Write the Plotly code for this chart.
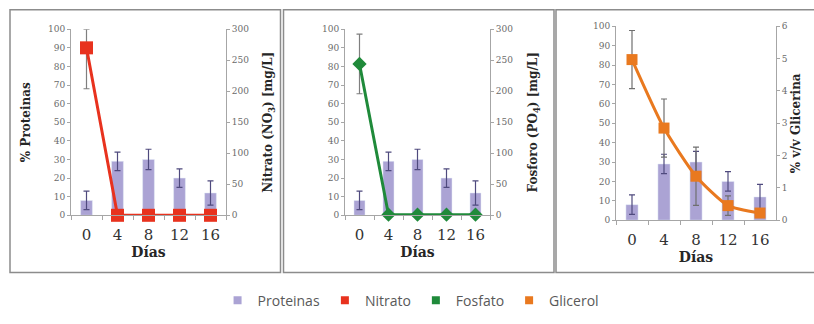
import plotly.graph_objects as go

W, H = 814, 324

dias = ["0", "4", "8", "12", "16"]
proteinas = [8, 29, 30, 20, 12]
proteinas_err = [5, 5, 5.5, 5, 6.5]

nitrato = [270, 0, 0, 0, 0]
nitrato_err_up = [30, 0, 0, 0, 0]
nitrato_err_down = [66, 0, 0, 0, 0]

fosfato = [244, 1, 1, 1, 1]
fosfato_err = [48, 0, 0, 0, 0]

glicerol = [4.97, 2.85, 1.36, 0.45, 0.22]
glicerol_err = [0.9, 0.9, 0.9, 0.3, 0.1]

C_BAR = "#ABA3D4"
C_BAR_ERR = "#4F4A7E"
C_RED = "#E8321E"
C_GREEN = "#1F8A3A"
C_ORANGE = "#E9791F"
AX = "#A6A6A6"
SERIF = "DejaVu Serif"


def px_x(x):
    return x / W


def px_y(y):
    return 1 - y / H


fig = go.Figure()

panels = [
    dict(x="x", yl="y", yr="y2"),
    dict(x="x2", yl="y3", yr="y4"),
    dict(x="x3", yl="y5", yr="y6"),
]

for i, p in enumerate(panels):
    fig.add_trace(go.Bar(
        x=dias, y=proteinas, name="Proteinas", marker_color=C_BAR,
        width=0.38, showlegend=False, xaxis=p["x"], yaxis=p["yl"],
        error_y=dict(type="data", array=proteinas_err, color=C_BAR_ERR,
                     thickness=1.2, width=3),
    ))

fig.add_trace(go.Scatter(
    x=dias, y=nitrato, name="Nitrato", mode="lines+markers",
    line=dict(color=C_RED, width=3),
    marker=dict(symbol="square", size=13, color=C_RED),
    error_y=dict(type="data", symmetric=False, array=nitrato_err_up,
                 arrayminus=nitrato_err_down, color="#7F7F7F", thickness=1.2, width=3),
    showlegend=False, xaxis="x", yaxis="y2", cliponaxis=False,
))
fig.add_trace(go.Scatter(
    x=dias, y=fosfato, name="Fosfato", mode="lines+markers",
    line=dict(color=C_GREEN, width=3),
    marker=dict(symbol="diamond", size=11, color=C_GREEN),
    error_y=dict(type="data", array=fosfato_err, color="#7F7F7F", thickness=1.2, width=3),
    showlegend=False, xaxis="x2", yaxis="y4", cliponaxis=False,
))
fig.add_trace(go.Scatter(
    x=dias, y=glicerol, name="Glicerol", mode="lines+markers",
    line=dict(color=C_ORANGE, width=3, shape="spline", smoothing=0.6),
    marker=dict(symbol="square", size=11, color=C_ORANGE),
    error_y=dict(type="data", array=glicerol_err, color="#6F6F6F", thickness=1.2, width=3),
    showlegend=False, xaxis="x3", yaxis="y6", cliponaxis=False,
))

# legend swatches
for name, col in [("Proteinas", C_BAR), ("Nitrato", C_RED), ("Fosfato", C_GREEN), ("Glicerol", C_ORANGE)]:
    fig.add_trace(go.Scatter(
        x=[None], y=[None], mode="markers", name=name,
        marker=dict(symbol="square", size=8, color=col),
        xaxis="x", yaxis="y", showlegend=True,
    ))

xdoms = [(71, 226), (345, 490), (616, 776)]
ydoms = [(25, 217), (25, 217), (22, 222)]
right_ranges = [[0, 300], [0, 300], [0, 6]]
right_dticks = [50, 50, 1]
right_titles = ["<b>Nitrato (NO<sub>3</sub>) [mg/L]</b>", "<b>Fosforo (PO<sub>4</sub>) [mg/L]</b>",
                "<b>% v/v Glicerina</b>"]
right_standoffs = [15, 16, 4]
left_titles = ["<b>% Proteinas</b>", "", ""]

tickfont_y = dict(family=SERIF, size=9, color="#6B6B6B")
layout = {}
for i in range(3):
    xa = "xaxis" if i == 0 else f"xaxis{i + 1}"
    yl = "yaxis" if i == 0 else f"yaxis{2 * i + 1}"
    yr = f"yaxis{2 * i + 2}"
    xn = "x" if i == 0 else f"x{i + 1}"
    yln = "y" if i == 0 else f"y{2 * i + 1}"
    dom_x = [px_x(xdoms[i][0]), px_x(xdoms[i][1])]
    dom_y = [px_y(ydoms[i][1]), px_y(ydoms[i][0])]
    layout[xa] = dict(
        domain=dom_x, anchor=yln, type="category", range=[-0.5, 4.5],
        showline=True, linecolor=AX, linewidth=1, ticks="outside", tickson="boundaries",
        ticklen=4, tickcolor=AX, showgrid=False, zeroline=False,
        ticklabelstandoff=6, tickangle=0,
        tickfont=dict(family=SERIF, size=15, color="#333333"),
        title=dict(text="<b>Días</b>", font=dict(family=SERIF, size=14, color="#262626"), standoff=2),
    )
    layout[yl] = dict(
        domain=dom_y, anchor=xn, range=[0, 100], dtick=10, showline=True, linecolor=AX,
        ticks="outside", ticklen=3, tickcolor=AX, showgrid=False, zeroline=False,
        tickfont=tickfont_y,
        title=dict(text=left_titles[i], font=dict(family=SERIF, size=12, color="#262626"), standoff=14),
    )
    layout[yr] = dict(
        domain=dom_y, anchor=xn, overlaying=yln, side="right",
        range=right_ranges[i], dtick=right_dticks[i], showline=True, linecolor=AX,
        ticks="outside", ticklen=3, tickcolor=AX, showgrid=False, zeroline=False,
        tickfont=tickfont_y,
        title=dict(text=right_titles[i], font=dict(family=SERIF, size=12, color="#262626"),
                   standoff=right_standoffs[i]),
    )

frames = [(10, 5, 280.5, 276), (283.5, 5, 554, 276), (556, 5, 816, 276)]
shapes = []
for x0, y0, x1, y1 in frames:
    shapes.append(dict(type="rect", xref="paper", yref="paper",
                       x0=px_x(x0), x1=px_x(x1), y0=px_y(y1), y1=px_y(y0),
                       line=dict(color="#8C8C8C", width=1.5), layer="below"))

fig.update_layout(
    width=W, height=H, margin=dict(l=0, r=0, t=0, b=0),
    paper_bgcolor="white", plot_bgcolor="rgba(0,0,0,0)",
    showlegend=True, barmode="overlay",
    legend=dict(orientation="h", x=0.505, xanchor="center", y=px_y(305), yanchor="middle",
                font=dict(family="Open Sans", size=14, color="#595959"),
                itemwidth=30, bgcolor="rgba(0,0,0,0)", traceorder="normal"),
    shapes=shapes,
    **layout,
)

post = (
    "document.documentElement.style.cssText='margin:0;padding:0;overflow:hidden;height:324px;';"
    "document.body.style.cssText='margin:0;padding:0;overflow:hidden;height:324px;';"
    "var gd=document.getElementById('{plot_id}');"
    "gd.style.position='fixed';gd.style.top='0px';gd.style.left='0px';"
)
fig.write_html("out.html", config={"displayModeBar": False}, post_script=post)
